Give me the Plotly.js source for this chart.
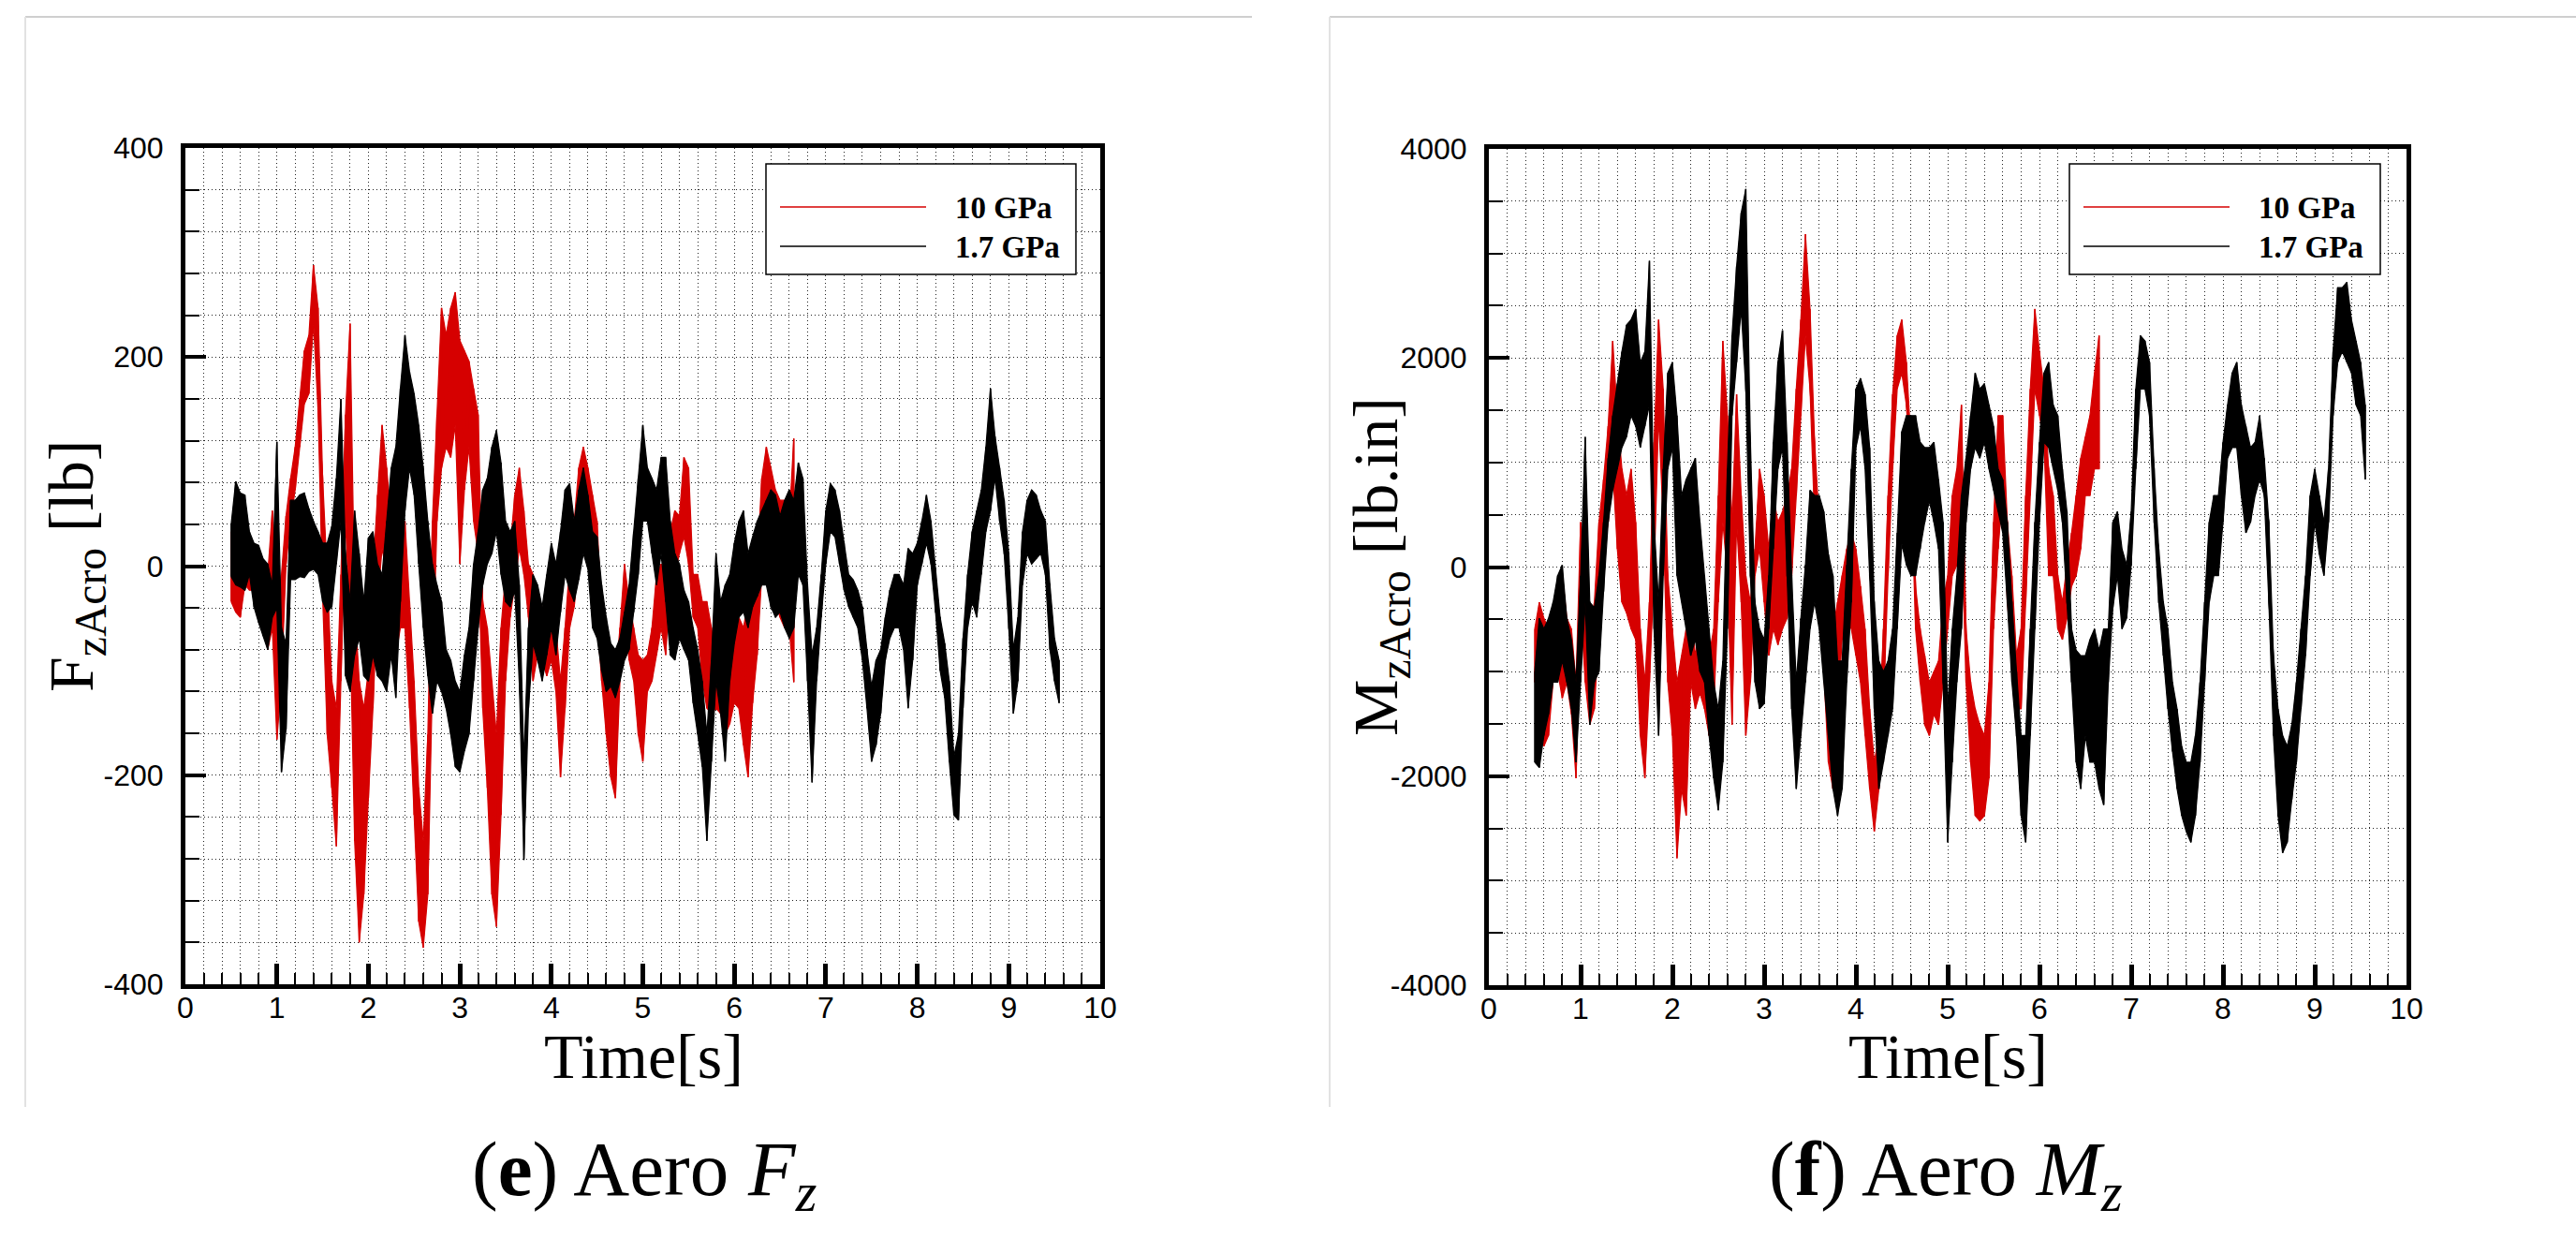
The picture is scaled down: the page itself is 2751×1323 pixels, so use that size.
<!DOCTYPE html>
<html>
<head>
<meta charset="utf-8">
<script src="https://cdn.plot.ly/plotly-3.0.1.min.js"></script>
<style>
html,body{margin:0;padding:0;background:#fff;}
#chart{width:2751px;height:1323px;}
</style>
</head>
<body>
<div id="chart"></div>
<script>
// ---------------- DATA ----------------
// Each row: [time (s), upper envelope, lower envelope] of the noisy signal
const seriesNames = ['10 GPa', '1.7 GPa'];
const seriesColors = ['#d60000', '#000000'];

const xTickVals = [0,1,2,3,4,5,6,7,8,9,10];
const xTickText = ['0','1','2','3','4','5','6','7','8','9','10'];
const fzTickVals = [-400,-200,0,200,400];
const fzTickText = ['-400','-200','0','200','400'];
const mzTickVals = [-4000,-2000,0,2000,4000];
const mzTickText = ['-4000','-2000','0','2000','4000'];

// Aero Fz [lb], 10 GPa
const fzRed = [
[0.50,33,-34],[0.55,28,-44],[0.60,12,-49],[0.65,2,-18],[0.70,12,-23],[0.75,7,-23],[0.80,2,-49],[0.85,-8,-59],[0.90,-8,-80],[0.95,53,-59],
[1.00,-39,-166],[1.05,-8,-110],[1.10,48,2],[1.15,84,43],[1.20,114,73],[1.25,160,114],[1.30,206,155],[1.35,221,165],[1.40,288,232],[1.45,247,150],
[1.50,84,-29],[1.55,-8,-161],[1.60,-110,-212],[1.65,-136,-268],[1.70,-8,-110],[1.75,145,43],[1.80,232,-59],[1.85,-34,-263],[1.90,-110,-360],[1.95,-136,-314],
[2.00,-100,-222],[2.05,-8,-136],[2.10,68,-34],[2.15,135,17],[2.20,94,-8],[2.25,43,-34],[2.30,-8,-85],[2.35,17,-59],[2.40,43,-59],[2.45,-34,-136],
[2.50,-110,-238],[2.55,-212,-340],[2.60,-263,-365],[2.65,-161,-314],[2.70,43,-110],[2.75,145,43],[2.80,247,94],[2.85,221,114],[2.90,247,104],[2.95,262,135],
[3.00,216,2],[3.05,206,73],[3.10,196,114],[3.15,170,43],[3.20,145,12],[3.25,-34,-136],[3.30,-59,-212],[3.35,-110,-314],[3.40,-161,-345],[3.45,-59,-238],
[3.50,-8,-110],[3.55,17,-49],[3.60,68,-18],[3.65,94,17],[3.70,53,-8],[3.75,2,-49],[3.80,-8,-110],[3.85,-34,-85],[3.90,-39,-90],[3.95,-59,-105],
[4.00,-39,-90],[4.05,-59,-120],[4.10,-110,-202],[4.15,-59,-136],[4.20,2,-59],[4.25,43,-39],[4.30,94,12],[4.35,114,43],[4.40,94,12],[4.45,68,-8],
[4.50,43,-49],[4.55,-49,-110],[4.60,-85,-161],[4.65,-110,-202],[4.70,-110,-222],[4.75,-59,-110],[4.80,2,-49],[4.85,-34,-90],[4.90,-59,-110],[4.95,-85,-161],
[5.00,-90,-187],[5.05,-85,-120],[5.10,-59,-110],[5.15,-8,-85],[5.20,2,-59],[5.25,-8,-85],[5.30,33,-8],[5.35,53,-8],[5.40,48,12],[5.45,104,28],
[5.50,94,2],[5.55,-8,-49],[5.60,-8,-59],[5.65,-34,-110],[5.70,-34,-136],[5.75,-59,-141],[5.80,-90,-136],[5.85,-110,-141],[5.90,-90,-161],[5.95,-85,-151],
[6.00,-59,-131],[6.05,-49,-136],[6.10,-59,-171],[6.15,-34,-202],[6.20,-34,-131],[6.25,2,-85],[6.30,84,-8],[6.35,114,17],[6.40,94,-8],[6.45,73,-34],
[6.50,63,-49],[6.55,63,-59],[6.60,43,-59],[6.65,122,-111]
];

// Aero Fz [lb], 1.7 GPa
const fzBlack = [
[0.50,40,-10],[0.55,81,-18],[0.60,70,-20],[0.65,68,-23],[0.70,33,-8],[0.75,22,-39],[0.80,20,-54],[0.85,7,-67],[0.90,2,-80],[0.95,-18,-49],
[1.00,119,-40],[1.05,-59,-197],[1.10,-74,-156],[1.15,63,-13],[1.20,63,-13],[1.25,68,-10],[1.30,70,-11],[1.35,55,-5],[1.40,43,-3],[1.45,33,-8],
[1.50,22,-34],[1.55,22,-44],[1.60,38,-39],[1.65,84,2],[1.70,160,43],[1.75,12,-105],[1.80,-34,-120],[1.85,53,-85],[1.90,12,-69],[1.95,-34,-105],
[2.00,27,-110],[2.05,33,-85],[2.10,2,-105],[2.15,-8,-110],[2.20,43,-120],[2.25,94,-85],[2.30,114,-126],[2.35,170,-34],[2.40,221,53],[2.45,186,94],
[2.50,165,68],[2.55,135,2],[2.60,94,-59],[2.65,43,-105],[2.70,2,-141],[2.75,-18,-110],[2.80,-34,-120],[2.85,-80,-136],[2.90,-90,-161],[2.95,-110,-192],
[3.00,-120,-197],[3.05,-85,-177],[3.10,-59,-161],[3.15,2,-110],[3.20,33,-59],[3.25,73,-18],[3.30,84,2],[3.35,114,12],[3.40,130,33],[3.45,99,-8],
[3.50,43,-34],[3.55,33,-39],[3.60,43,-23],[3.65,-18,-110],[3.70,-187,-281],[3.75,-59,-136],[3.80,-8,-74],[3.85,-18,-90],[3.90,-39,-110],[3.95,-8,-85],
[4.00,22,-59],[4.05,2,-85],[4.10,33,-44],[4.15,73,-8],[4.20,79,-23],[4.25,43,-34],[4.30,73,-13],[4.35,94,12],[4.40,68,-3],[4.45,33,-59],
[4.50,28,-69],[4.55,-18,-100],[4.60,-49,-120],[4.65,-74,-115],[4.70,-80,-126],[4.75,-69,-110],[4.80,-44,-90],[4.85,-18,-80],[4.90,33,-44],[4.95,84,-8],
[5.00,135,43],[5.05,94,43],[5.10,84,12],[5.15,73,-18],[5.20,104,12],[5.25,104,-34],[5.30,43,-85],[5.35,12,-90],[5.40,2,-69],[5.45,-23,-80],
[5.50,-34,-90],[5.55,-59,-131],[5.60,-80,-161],[5.65,-110,-192],[5.70,-161,-263],[5.75,-90,-187],[5.80,12,-110],[5.85,-34,-141],[5.90,-18,-187],[5.95,-8,-110],
[6.00,22,-74],[6.05,43,-49],[6.10,53,-44],[6.15,12,-59],[6.20,28,-39],[6.25,43,-29],[6.30,53,-18],[6.35,63,-18],[6.40,73,-39],[6.45,68,-49],
[6.50,48,-44],[6.55,63,-59],[6.60,73,-69],[6.65,63,-59],[6.70,99,-8],[6.75,84,-18],[6.80,-18,-110],[6.85,-85,-207],[6.90,-59,-110],[6.95,-8,-49],
[7.00,53,2],[7.05,79,33],[7.10,73,28],[7.15,53,2],[7.20,22,-23],[7.25,-8,-39],[7.30,-13,-49],[7.35,-23,-59],[7.40,-39,-90],[7.45,-80,-136],
[7.50,-115,-187],[7.55,-90,-171],[7.60,-80,-141],[7.65,-49,-90],[7.70,-23,-69],[7.75,-8,-59],[7.80,-8,-59],[7.85,-18,-80],[7.90,17,-136],[7.95,12,-90],
[8.00,22,-18],[8.05,43,2],[8.10,68,22],[8.15,43,2],[8.20,-3,-44],[8.25,-49,-100],[8.30,-74,-126],[8.35,-110,-187],[8.40,-182,-238],[8.45,-161,-243],
[8.50,-69,-136],[8.55,-8,-59],[8.60,33,-34],[8.65,53,-49],[8.70,73,-8],[8.75,114,33],[8.80,170,53],[8.85,124,84],[8.90,94,43],[8.95,63,12],
[9.00,12,-59],[9.05,-80,-141],[9.10,-49,-110],[9.15,33,-18],[9.20,63,12],[9.25,73,2],[9.30,68,7],[9.35,53,12],[9.40,43,-8],[9.45,-18,-80],
[9.50,-69,-110],[9.55,-90,-131]
];

// Aero Mz [lb.in], 10 GPa
const mzRed = [
[0.50,-592,-1102],[0.55,-337,-1000],[0.60,-490,-1714],[0.65,-592,-1612],[0.70,-490,-1102],[0.75,-184,-1000],[0.80,-82,-1255],[0.85,-490,-1102],[0.90,-592,-1408],[0.95,-1102,-2020],
[1.00,429,-337],[1.05,-337,-1102],[1.10,-592,-1510],[1.15,-337,-1357],[1.20,429,-592],[1.25,837,122],[1.30,1347,429],[1.35,2163,939],[1.40,1449,173],[1.45,939,-337],
[1.50,684,-439],[1.55,939,-592],[1.60,429,-694],[1.65,-592,-1612],[1.70,-1102,-2020],[1.75,-337,-1102],[1.80,1194,-82],[1.85,2367,1449],[1.90,1704,429],[1.95,-82,-1102],
[2.00,-592,-1612],[2.05,-1102,-2786],[2.10,-847,-2122],[2.15,-592,-2378],[2.20,-337,-1102],[2.25,-847,-1357],[2.30,-592,-1204],[2.35,-592,-1357],[2.40,-847,-1612],[2.45,-592,-1357],
[2.50,684,-337],[2.55,2163,429],[2.60,1449,-82],[2.65,429,-1510],[2.70,1653,429],[2.75,684,-337],[2.80,-82,-1612],[2.85,-337,-1102],[2.90,173,-82],[2.95,939,173],
[3.00,684,-337],[3.05,173,-847],[3.10,684,-592],[3.15,429,-745],[3.20,531,-592],[3.25,684,-490],[3.30,939,-82],[3.35,1704,684],[3.40,2367,1449],[3.45,3184,2214],
[3.50,2469,1704],[3.55,1194,429],[3.60,429,-490],[3.65,-388,-1000],[3.70,-847,-1867],[3.75,-592,-2122],[3.80,-337,-1357],[3.85,-82,-694],[3.90,173,-439],[3.95,327,-592],
[4.00,173,-847],[4.05,-184,-1102],[4.10,-592,-1612],[4.15,-1357,-2122],[4.20,-1867,-2531],[4.25,-1612,-2122],[4.30,-592,-1357],[4.35,684,-82],[4.40,1653,939],[4.45,2214,1704],
[4.50,2367,1857],[4.55,1959,1551],[4.60,1194,837],[4.65,-184,-592],[4.70,-592,-1102],[4.75,-847,-1510],[4.80,-1102,-1612],[4.85,-1000,-1408],[4.90,-898,-1510],[4.95,-337,-1102],
[5.00,-82,-592],[5.05,684,-82],[5.10,939,20],[5.15,1551,429],[5.20,-592,-1102],[5.25,-1102,-1867],[5.30,-1357,-2378],[5.35,-1510,-2429],[5.40,-1612,-2378],[5.45,-1102,-2020],
[5.50,429,-592],[5.55,1449,173],[5.60,1449,735],[5.65,429,-337],[5.70,-82,-847],[5.75,-847,-1357],[5.80,-592,-1357],[5.85,684,-337],[5.90,1704,684],[5.95,2469,1704],
[6.00,2061,1449],[6.05,1704,1194],[6.10,939,-82],[6.15,684,-82],[6.20,-82,-592],[6.25,-337,-694],[6.30,20,-490],[6.35,327,-184],[6.40,684,-82],[6.45,1041,173],
[6.50,1245,684],[6.55,1449,684],[6.60,1857,939],[6.65,2214,939]
];

// Aero Mz [lb.in], 1.7 GPa
const mzBlack = [
[0.50,-1000,-1867],[0.55,-490,-1918],[0.60,-592,-1612],[0.65,-490,-1408],[0.70,-337,-1102],[0.75,-82,-1102],[0.80,20,-898],[0.85,-490,-1102],[0.90,-694,-1357],[0.95,-1102,-1867],
[1.00,-82,-1102],[1.05,1245,-337],[1.10,-337,-1510],[1.15,-388,-1102],[1.20,-82,-1000],[1.25,429,-235],[1.30,1041,429],[1.35,1449,735],[1.40,1755,939],[1.45,2061,1143],
[1.50,2316,1245],[1.55,2367,1449],[1.60,2469,1347],[1.65,1959,1143],[1.70,2061,1347],[1.75,2929,1551],[1.80,429,-592],[1.85,-337,-1612],[1.90,939,-82],[1.95,1857,939],
[2.00,1959,1143],[2.05,1449,-82],[2.10,684,-337],[2.15,837,-592],[2.20,939,-847],[2.25,1041,-694],[2.30,429,-1000],[2.35,-82,-1102],[2.40,-592,-1612],[2.45,-1102,-2020],
[2.50,-1357,-2327],[2.55,-898,-1867],[2.60,939,-592],[2.65,2214,1449],[2.70,2878,1959],[2.75,3388,2469],[2.80,3617,1704],[2.85,1194,-82],[2.90,-337,-1102],[2.95,-592,-1357],
[3.00,-694,-1306],[3.05,-82,-592],[3.10,1194,173],[3.15,1959,939],[3.20,2265,1143],[3.25,1194,-82],[3.30,-82,-1357],[3.35,-1102,-2122],[3.40,-490,-1612],[3.45,20,-1102],
[3.50,735,-592],[3.55,684,-337],[3.60,684,-592],[3.65,531,-1102],[3.70,122,-1612],[3.75,-82,-2122],[3.80,-898,-2378],[3.85,-898,-2122],[3.90,20,-1102],[3.95,939,-337],
[4.00,1704,1143],[4.05,1806,1347],[4.10,1653,939],[4.15,1143,-82],[4.20,-337,-1357],[4.25,-898,-2122],[4.30,-1000,-1867],[4.35,-898,-1612],[4.40,-592,-1357],[4.45,327,-592],
[4.50,1296,224],[4.55,1449,20],[4.60,1449,-82],[4.65,1449,-82],[4.70,1194,173],[4.75,1143,429],[4.80,1143,633],[4.85,1194,429],[4.90,837,173],[4.95,429,-1102],
[5.00,-1357,-2633],[5.05,-592,-1867],[5.10,-82,-1102],[5.15,684,-592],[5.20,1041,429],[5.25,1449,939],[5.30,1857,1143],[5.35,1704,1041],[5.40,1755,1194],[5.45,1551,939],
[5.50,1347,735],[5.55,939,531],[5.60,837,327],[5.65,429,-337],[5.70,-337,-1102],[5.75,-1000,-1612],[5.80,-1612,-2378],[5.85,-1612,-2633],[5.90,-592,-1612],[5.95,429,-592],
[6.00,1194,429],[6.05,1857,1194],[6.10,1959,1143],[6.15,1551,939],[6.20,1449,735],[6.25,939,429],[6.30,531,-337],[6.35,-592,-1102],[6.40,-796,-1867],[6.45,-847,-2122],
[6.50,-847,-1612],[6.55,-694,-1867],[6.60,-592,-1867],[6.65,-796,-2122],[6.70,-592,-2276],[6.75,-592,-1102],[6.80,429,-388],[6.85,531,-82],[6.90,173,-592],[6.95,20,-490],
[7.00,531,20],[7.05,1704,939],[7.10,2214,1704],[7.15,2163,1704],[7.20,1959,1449],[7.25,939,429],[7.30,173,-337],[7.35,-337,-847],[7.40,-592,-1357],[7.45,-1102,-1765],
[7.50,-1357,-2122],[7.55,-1714,-2378],[7.60,-1867,-2531],[7.65,-1867,-2633],[7.70,-1612,-2378],[7.75,-1102,-1867],[7.80,-337,-1102],[7.85,429,-337],[7.90,684,-82],[7.95,684,-82],
[8.00,1194,429],[8.05,1551,1041],[8.10,1857,1143],[8.15,1959,1143],[8.20,1551,684],[8.25,1347,327],[8.30,1143,429],[8.35,1194,684],[8.40,1449,837],[8.45,1041,684],
[8.50,429,-337],[8.55,-847,-1612],[8.60,-1357,-2378],[8.65,-1612,-2735],[8.70,-1714,-2633],[8.75,-1510,-2224],[8.80,-1102,-1867],[8.85,-592,-1357],[8.90,-82,-847],[8.95,684,-82],
[9.00,939,429],[9.05,684,122],[9.10,429,-82],[9.15,939,429],[9.20,2061,1449],[9.25,2673,1959],[9.30,2673,2061],[9.35,2724,1959],[9.40,2367,1857],[9.45,2163,1551],
[9.50,1959,1449],[9.55,1551,837]
];

// ---------------- DRAWING ----------------
const W = 2751, H = 1323;
const fx = p => p / W;
const fy = p => 1 - p / H;

// noisy band: region between the upper and lower envelopes, drawn as one closed shape
function bandFill(rows, name, color, xa, ya) {
  const x = [], y = [];
  rows.forEach(r => { x.push(r[0]); y.push(r[1]); });
  rows.slice().reverse().forEach(r => { x.push(r[0]); y.push(r[2]); });
  return {type:'scatter', mode:'lines', x:x, y:y, name:name, xaxis:xa, yaxis:ya, fill:'toself',
          fillcolor:color, line:{color:color, width:1.2, simplify:false}, showlegend:false, hoverinfo:'skip'};
}
// the rapid oscillation inside the band: a stroke between envelopes at each sample
function bandStroke(rows, name, color, xa, ya) {
  const x = [], y = [];
  rows.forEach(r => { x.push(r[0], r[0]); y.push(r[1], r[2]); });
  return {type:'scatter', mode:'lines', x:x, y:y, name:name, xaxis:xa, yaxis:ya,
          line:{color:color, width:1.5, simplify:false}, showlegend:false, hoverinfo:'skip'};
}

const traces = [
  bandFill(fzRed,     seriesNames[0], seriesColors[0], 'x',  'y'),
  bandStroke(fzRed,   seriesNames[0], seriesColors[0], 'x',  'y'),
  bandFill(fzBlack,   seriesNames[1], seriesColors[1], 'x',  'y'),
  bandStroke(fzBlack, seriesNames[1], seriesColors[1], 'x',  'y'),
  bandFill(mzRed,     seriesNames[0], seriesColors[0], 'x2', 'y2'),
  bandStroke(mzRed,   seriesNames[0], seriesColors[0], 'x2', 'y2'),
  bandFill(mzBlack,   seriesNames[1], seriesColors[1], 'x2', 'y2'),
  bandStroke(mzBlack, seriesNames[1], seriesColors[1], 'x2', 'y2')
];

const tickFont = {family:'Arial, "Liberation Sans", sans-serif', size:32, color:'#000'};
const serif = 'Times New Roman, "Liberation Serif", serif';
const gridDash = '1px,3px';
const gridColor = '#222';

function xAxis(dom, anchor) {
  return {
    domain:[fx(dom[0]), fx(dom[1])], anchor:anchor, range:[0,10],
    tickmode:'array', tickvals:xTickVals, ticktext:xTickText,
    ticks:'inside', ticklen:22, tickwidth:5, tickcolor:'#000',
    showline:true, linewidth:5, linecolor:'#000', mirror:true,
    showgrid:true, gridcolor:gridColor, griddash:gridDash, gridwidth:1, zeroline:false,
    tickfont:tickFont, ticklabelstandoff:-7,
    minor:{tickmode:'linear', tick0:0, dtick:0.2, ticks:'inside', ticklen:12, tickwidth:2, tickcolor:'#000',
           showgrid:true, gridcolor:gridColor, griddash:gridDash, gridwidth:1},
    fixedrange:true
  };
}
function yAxis(dom, anchor, rng, tv, tt, minorStep) {
  return {
    domain:[fy(dom[1]), fy(dom[0])], anchor:anchor, range:rng,
    tickmode:'array', tickvals:tv, ticktext:tt,
    ticks:'inside', ticklen:22, tickwidth:4, tickcolor:'#000',
    showline:true, linewidth:5, linecolor:'#000', mirror:true,
    showgrid:true, gridcolor:gridColor, griddash:gridDash, gridwidth:1, zeroline:false,
    tickfont:tickFont, ticklabelstandoff:12,
    minor:{tickmode:'linear', tick0:0, dtick:minorStep, ticks:'inside', ticklen:15, tickwidth:2, tickcolor:'#000',
           showgrid:true, gridcolor:gridColor, griddash:gridDash, gridwidth:1},
    fixedrange:true
  };
}

const shapes = [];
const annotations = [];

// light grey panel frames
[[27,1337],[1420,2751]].forEach(p => {
  shapes.push({type:'line', xref:'paper', yref:'paper', x0:fx(p[0]), x1:fx(p[1]), y0:fy(18), y1:fy(18),
               line:{color:'#cfcfcf', width:2}});
  shapes.push({type:'line', xref:'paper', yref:'paper', x0:fx(p[0]), x1:fx(p[0]), y0:fy(18), y1:fy(1182),
               line:{color:'#e2e2e2', width:2}});
});

// legends (boxed, long sample lines as in the original)
function legend(boxL, boxR) {
  shapes.push({type:'rect', xref:'paper', yref:'paper', x0:fx(boxL), x1:fx(boxR), y0:fy(293), y1:fy(175),
               line:{color:'#000', width:1.5}, fillcolor:'#fff', layer:'above'});
  const rowsY = [221, 263];
  seriesNames.forEach((nm, i) => {
    shapes.push({type:'line', xref:'paper', yref:'paper', x0:fx(boxL+15), x1:fx(boxL+171), y0:fy(rowsY[i]), y1:fy(rowsY[i]),
                 line:{color:seriesColors[i], width:1.5}, layer:'above'});
    annotations.push({xref:'paper', yref:'paper', x:fx(boxL+200), y:fy(rowsY[i]+1), xanchor:'left', yanchor:'middle',
                      text:nm, showarrow:false, font:{family:serif, size:33, color:'#000', weight:'bold'}});
  });
}
legend(818, 1149);
legend(2210, 2542);

// axis titles
function axisTitles(cx, cyY, yx, yText) {
  annotations.push({xref:'paper', yref:'paper', x:fx(cx), y:fy(1128), xanchor:'center', yanchor:'middle', showarrow:false,
                    text:'Time[s]', font:{family:serif, size:68, color:'#000'}});
  annotations.push({xref:'paper', yref:'paper', x:fx(yx), y:fy(cyY), xanchor:'center', yanchor:'middle', showarrow:false,
                    textangle:-90, text:yText, font:{family:serif, size:68, color:'#000'}});
}
axisTitles(687, 605, 80, 'F<sub>zAcro</sub> [lb]');
axisTitles(2080, 605, 1473, 'M<sub>zAcro</sub> [lb.in]');

// captions
annotations.push({xref:'paper', yref:'paper', x:fx(688), y:fy(1254), xanchor:'center', yanchor:'middle', showarrow:false,
                  text:'(<b>e</b>) Aero <i>F<sub>z</sub></i>', font:{family:serif, size:83, color:'#000'}});
annotations.push({xref:'paper', yref:'paper', x:fx(2078), y:fy(1254), xanchor:'center', yanchor:'middle', showarrow:false,
                  text:'(<b>f</b>) Aero <i>M<sub>z</sub></i>', font:{family:serif, size:83, color:'#000'}});

const layout = {
  width:W, height:H, margin:{l:0, r:0, t:0, b:0},
  paper_bgcolor:'#fff', plot_bgcolor:'#fff', showlegend:false,
  xaxis: xAxis([198,1175], 'y'),
  yaxis: yAxis([158,1051], 'x', [-400,400], fzTickVals, fzTickText, 40),
  xaxis2: xAxis([1590,2570], 'y2'),
  yaxis2: yAxis([159,1052], 'x2', [-4000,4000], mzTickVals, mzTickText, 500),
  shapes:shapes, annotations:annotations
};

Plotly.newPlot('chart', traces, layout, {displayModeBar:false, staticPlot:true});
</script>
</body>
</html>
